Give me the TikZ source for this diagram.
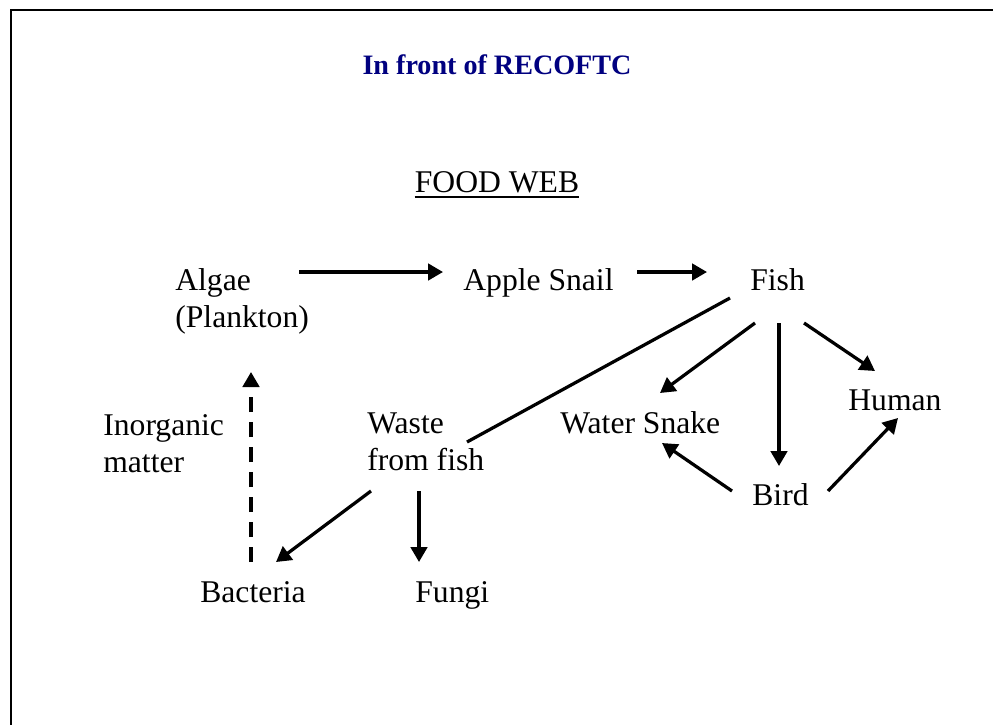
\documentclass[tikz,border=0pt]{standalone}
\usepackage{fontspec}
\setmainfont{Liberation Serif}
\usepackage{tikz}
\usetikzlibrary{positioning,arrows.meta,calc}
\tikzset{flecha/.style={line width=0.065cm, -{Triangle[length=0.3cm,width=0.33cm]}}}
\tikzset{linea/.style={line width=0.065cm}}
\tikzset{etiqueta/.style={inner sep=0pt, anchor=base west, align=left, font=\fontsize{18}{21}\selectfont}}
\definecolor{titleblue}{RGB}{0,0,128}

\begin{document}
\begin{tikzpicture}[x=0.02cm, y=-0.02cm]
            \useasboundingbox (0,0) rectangle (993,724);
            \clip (0,0) rectangle (993,724);
            \draw[line width=0.04cm] (11,10) rectangle (1010,740);

            \node[inner sep=0pt, anchor=base, text=titleblue, font=\fontsize{16}{19}\selectfont\bfseries] (title) at (497,74) {In front of RECOFTC};
            \node[inner sep=0pt, anchor=base, font=\fontsize{18}{21}\selectfont] (web) at (497,192) {FOOD WEB};
            \draw[line width=0.03cm] ($(web.base west)+(0,5)$) -- ($(web.base east)+(0,5)$);

            % two-line labels sit on the baseline of their last line
            \node[etiqueta] (algae) at (175,327) {Algae\\(Plankton)};
            \node[etiqueta] (snail) at (463,290) {Apple Snail};
            \node[etiqueta] (fish) at (750,290) {Fish};
            \node[etiqueta] (inorganic) at (103,472) {Inorganic\\matter};
            \node[etiqueta] (waste) at (367,470) {Waste\\from fish};
            \node[etiqueta] (snake) at (560,433) {Water Snake};
            \node[etiqueta] (human) at (848,410) {Human};
            \node[etiqueta] (bird) at (752,505) {Bird};
            \node[etiqueta] (bacteria) at (200,602) {Bacteria};
            \node[etiqueta] (fungi) at (415,602) {Fungi};

            \draw[flecha] ($(algae.base west)+(124,-55)$) -- ($(snail.base west)+(-20,-18)$);
            \draw[flecha] ($(snail.base west)+(174,-18)$) -- ($(fish.base west)+(-43,-18)$);
            \draw[linea] ($(fish.base west)+(-20,8)$) -- ($(waste.base west)+(100,-28)$);
            \draw[flecha] ($(fish.base west)+(5,33)$) -- ($(snake.base west)+(100,-40)$);
            \draw[flecha] ($(fish.base west)+(29,33)$) -- ($(bird.base west)+(27,-39)$);
            \draw[flecha] ($(fish.base west)+(54,33)$) -- ($(human.base west)+(27,-39)$);
            \draw[flecha] ($(bird.base west)+(-20,-14)$) -- ($(snake.base west)+(102,10)$);
            \draw[flecha] ($(bird.base west)+(76,-14)$) -- ($(human.base west)+(50,8)$);
            \draw[flecha] ($(waste.base west)+(4,21)$) -- ($(bacteria.base west)+(76,-40)$);
            \draw[flecha] ($(waste.base west)+(52,21)$) -- ($(fungi.base west)+(4,-40)$);
            \draw[flecha, dash pattern=on 0.3cm off 0.2cm] ($(bacteria.base west)+(51,-40)$) -- ($(algae.base west)+(76,45)$);
        \end{tikzpicture}
\end{document}
